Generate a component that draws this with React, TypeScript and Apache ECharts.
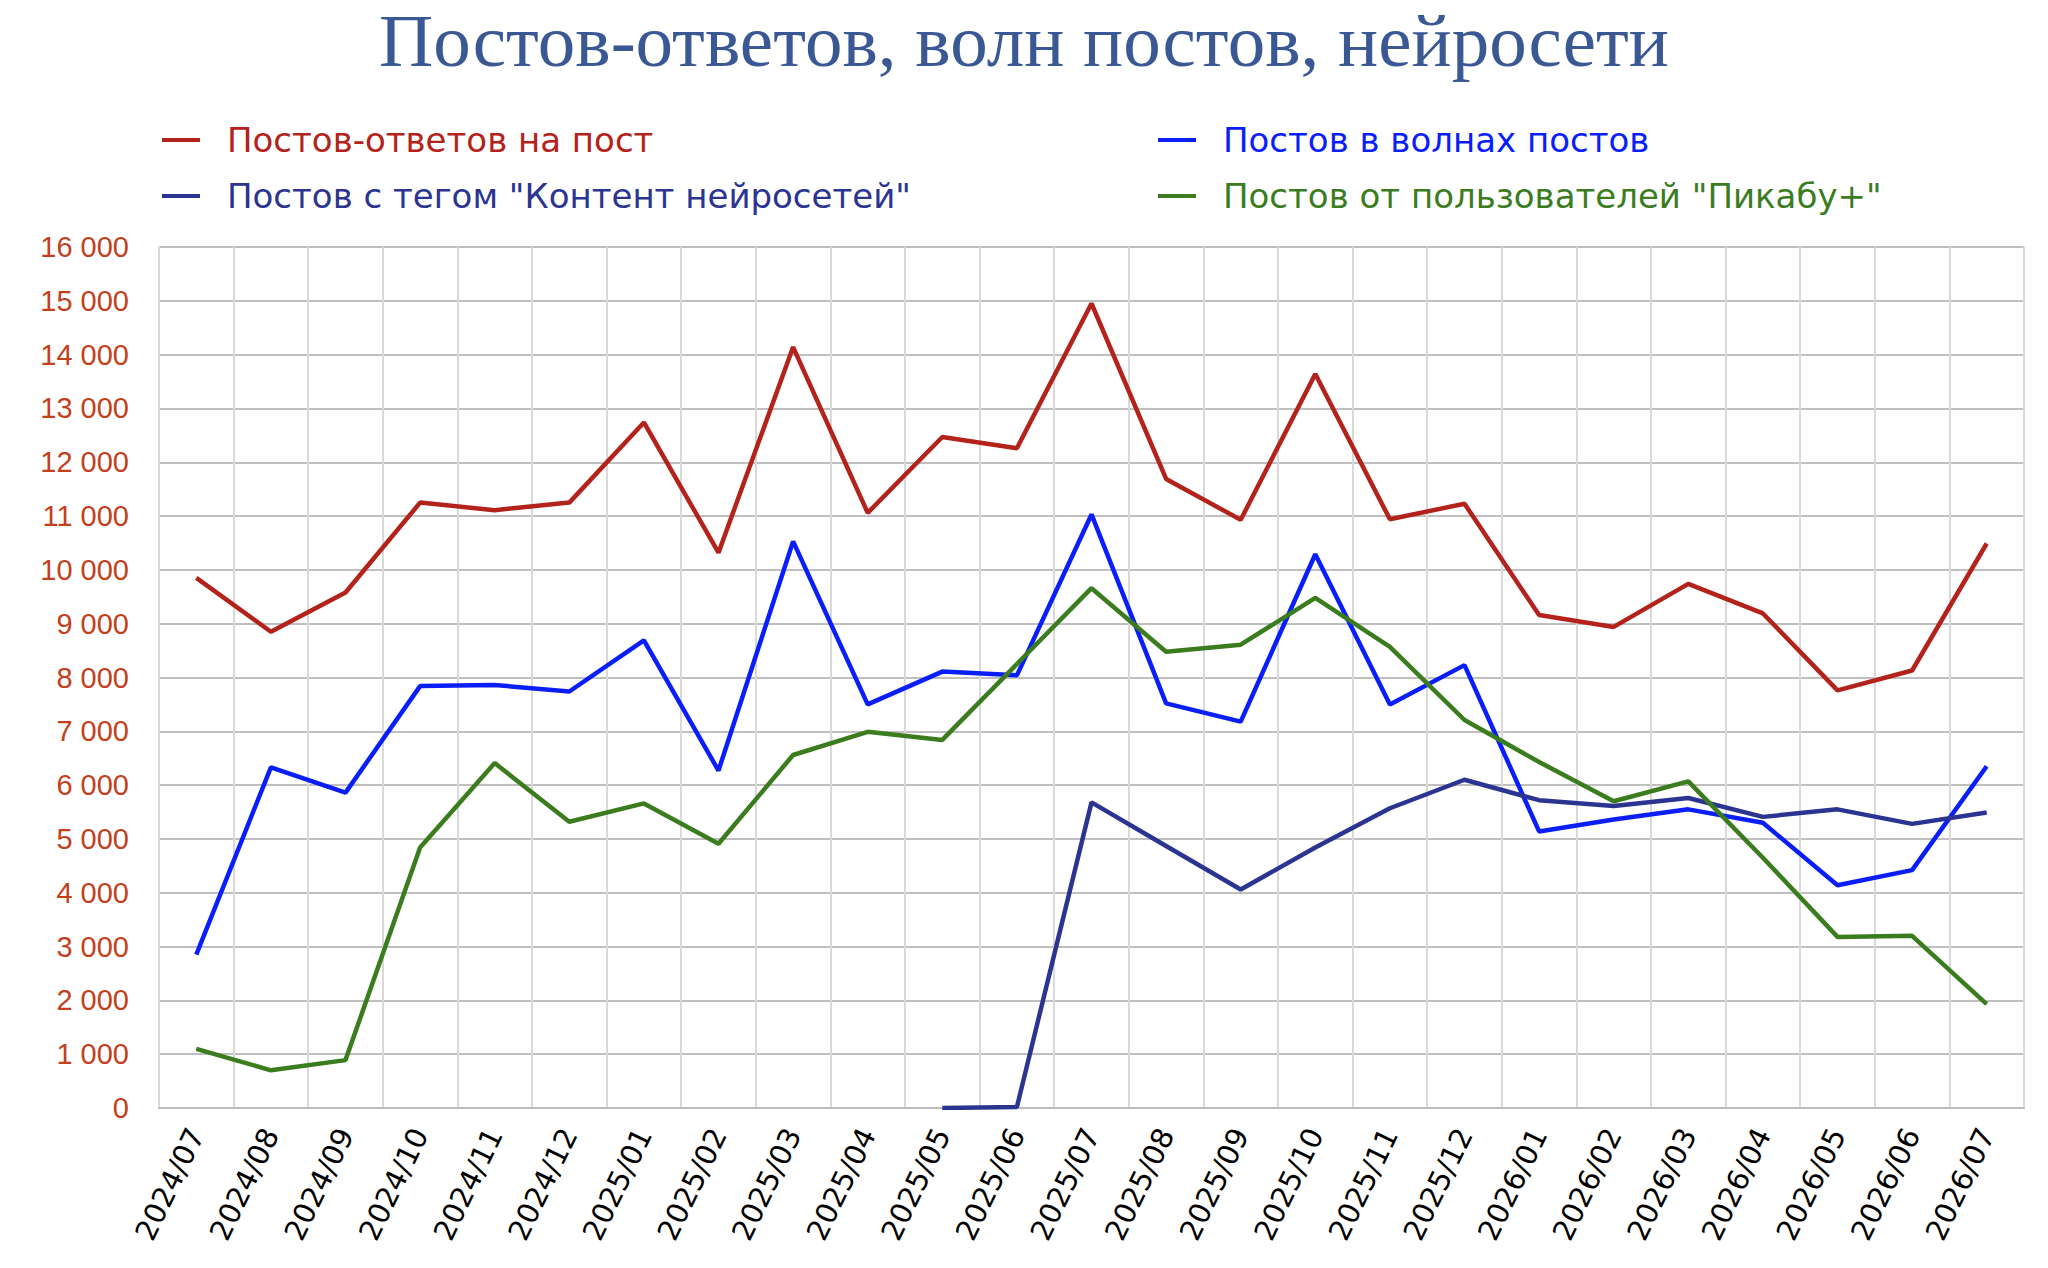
import React, { useEffect, useRef } from "react";
import * as echarts from "echarts";

const months = [
  "2024/07", "2024/08", "2024/09", "2024/10", "2024/11", "2024/12",
  "2025/01", "2025/02", "2025/03", "2025/04", "2025/05", "2025/06",
  "2025/07", "2025/08", "2025/09", "2025/10", "2025/11", "2025/12",
  "2026/01", "2026/02", "2026/03", "2026/04", "2026/05", "2026/06", "2026/07",
];

const replyPosts = [
  9850, 8850, 9580, 11250, 11110, 11250, 12740, 10320, 14140, 11060, 12470, 12260,
  14950, 11690, 10930, 13640, 10940, 11230, 9160, 8940, 9740, 9190, 7760, 8130, 10490,
];

const wavePosts = [
  2850, 6330, 5860, 7840, 7860, 7740, 8690, 6270, 10530, 7500, 8110, 8040,
  11030, 7520, 7180, 10290, 7500, 8230, 5140, 5360, 5550, 5300, 4140, 4420, 6350,
];

const aiPosts = [
  null, null, null, null, null, null, null, null, null, null, 0, 20,
  5680, 4870, 4060, 4840, 5570, 6100, 5720, 5610, 5760, 5410, 5550, 5280, 5490,
];

const plusPosts = [
  1100, 700, 890, 4840, 6410, 5320, 5660, 4910, 6560, 6990, 6840, 8250,
  9660, 8480, 8610, 9480, 8570, 7210, 6430, 5700, 6070, 4650, 3180, 3200, 1930,
];

const seriesNames = [
  "Постов-ответов на пост",
  "Постов в волнах постов",
  "Постов с тегом \"Контент нейросетей\"",
  "Постов от пользователей \"Пикабу+\"",
];

const seriesColors = ["#b3231b", "#0a1efa", "#2c3491", "#3b7c1f"];

const titleText = "Постов-ответов, волн постов, нейросети";

const fmt = (v: number) => String(v).replace(/\B(?=(\d{3})+(?!\d))/g, " ");

export default function App() {
  const ref = useRef<HTMLDivElement>(null);

  useEffect(() => {
    if (!ref.current) return;
    const chart = echarts.init(ref.current, undefined, { renderer: "svg" });
    const legendFont = "'DejaVu Sans', Verdana, sans-serif";
    const mkLegend = (i: number, left: number, top: number) => ({
      show: true,
      left,
      top,
      orient: "horizontal",
      data: [seriesNames[i]],
      icon: "rect",
      itemWidth: 38,
      itemHeight: 4,
      itemGap: 0,
      padding: 0,
      textStyle: {
        color: seriesColors[i],
        fontFamily: legendFont,
        fontSize: 34,
        lineHeight: 40,
        padding: [0, 0, 0, 22],
      },
      selectedMode: false,
    });
    const datas = [replyPosts, wavePosts, aiPosts, plusPosts];
    chart.setOption({
      animation: false,
      backgroundColor: "#ffffff",
      title: {
        text: titleText,
        left: "center",
        top: -2,
        textStyle: {
          fontFamily: "'Liberation Serif', serif",
          fontWeight: "normal",
          fontSize: 75,
          color: "#3a5894",
        },
      },
      legend: [
        mkLegend(0, 162, 120),
        mkLegend(1, 1158, 120),
        mkLegend(2, 162, 176),
        mkLegend(3, 1158, 176),
      ],
      grid: {
        left: 159,
        right: 24,
        top: 247,
        bottom: 160,
        containLabel: false,
      },
      xAxis: {
        type: "category",
        data: months,
        boundaryGap: true,
        axisLine: { show: true, lineStyle: { color: "#bdbdbd", width: 2 } },
        axisTick: { show: false },
        splitLine: { show: true, lineStyle: { color: "#d9d9d9", width: 2 } },
        axisLabel: {
          rotate: 64,
          margin: 22,
          color: "#000000",
          fontFamily: "'DejaVu Sans', Verdana, sans-serif",
          fontSize: 29,
          interval: 0,
        },
      },
      yAxis: {
        type: "value",
        min: 0,
        max: 16000,
        interval: 1000,
        axisLine: { show: true, lineStyle: { color: "#d9d9d9", width: 2 } },
        axisTick: { show: false },
        splitLine: { show: true, lineStyle: { color: "#bfbfbf", width: 2 } },
        axisLabel: {
          color: "#c4401c",
          fontFamily: "'Liberation Sans', Arial, sans-serif",
          fontSize: 29,
          margin: 30,
          formatter: (v: number) => fmt(v),
        },
      },
      series: datas.map((d, i) => ({
        name: seriesNames[i],
        type: "line",
        data: d,
        symbol: "none",
        connectNulls: false,
        lineStyle: { color: seriesColors[i], width: 4.5 },
        itemStyle: { color: seriesColors[i] },
      })),
    });
    return () => chart.dispose();
  }, []);

  return (
    <div
      ref={ref}
      style={{ position: "fixed", left: 0, top: 0, width: 2048, height: 1268, background: "#fff" }}
    />
  );
}
